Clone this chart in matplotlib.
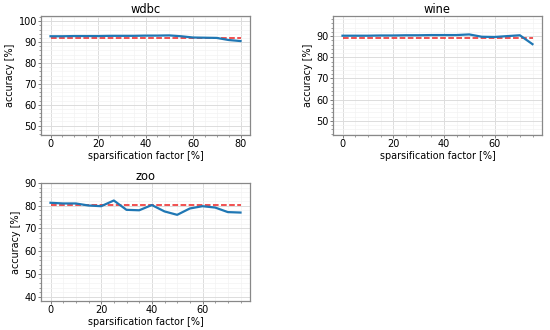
import matplotlib
matplotlib.use("Agg")
import matplotlib.pyplot as plt
from matplotlib.ticker import AutoMinorLocator, MultipleLocator

x_wdbc = [0, 5, 10, 15, 20, 25, 30, 35, 40, 45, 50, 55, 60, 65, 70, 75, 80]
acc_wdbc = [92.8, 92.8, 92.9, 92.9, 92.9, 93.0, 93.0, 93.0, 93.1, 93.1, 93.2, 92.8, 92.2, 92.1, 92.0, 91.0, 90.5]
base_wdbc = 91.8

x_wine = [0, 5, 10, 15, 20, 25, 30, 35, 40, 45, 50, 55, 60, 65, 70, 75]
acc_wine = [90.2, 90.2, 90.2, 90.3, 90.3, 90.4, 90.4, 90.5, 90.5, 90.5, 90.8, 89.7, 89.6, 90.0, 90.4, 86.2]
base_wine = 89.0

x_zoo = [0, 5, 10, 15, 20, 25, 30, 35, 40, 45, 50, 55, 60, 65, 70, 75]
acc_zoo = [81.3, 81.0, 81.0, 80.1, 79.8, 82.3, 78.2, 78.0, 80.3, 77.5, 76.0, 78.8, 79.8, 79.2, 77.2, 77.0]
base_zoo = 80.3

titles = ["wdbc", "wine", "zoo"]
ylims = [(45.5, 102.5), (43.3, 99.5), (38.1, 90.0)]
positions = [
    [41/550, 1-135/330, 209/550, 119/330],
    [333/550, 1-135/330, 209/550, 119/330],
    [41/550, 1-301/330, 209/550, 118/330],
]
datasets = [(x_wdbc, acc_wdbc, base_wdbc), (x_wine, acc_wine, base_wine), (x_zoo, acc_zoo, base_zoo)]

fig = plt.figure(figsize=(5.5, 3.3), dpi=100)
for (xs, ys, base), title, yl, pos in zip(datasets, titles, ylims, positions):
    ax = fig.add_axes(pos)
    ax.plot(xs, [base]*len(xs), '--', color='#ee2222', lw=1.1, zorder=3)
    ax.plot(xs, ys, '-', color='#1f77b4', lw=1.6, zorder=4)
    ax.set_ylim(*yl)
    ax.set_title(title, fontsize=8.3, pad=2.5)
    ax.set_xlabel("sparsification factor [%]", fontsize=6.9, labelpad=1)
    ax.set_ylabel("accuracy [%]", fontsize=6.9, labelpad=2.5)
    ax.xaxis.set_major_locator(MultipleLocator(20))
    ax.yaxis.set_major_locator(MultipleLocator(10))
    ax.xaxis.set_minor_locator(AutoMinorLocator(4))
    ax.yaxis.set_minor_locator(AutoMinorLocator(5))
    ax.tick_params(which='major', labelsize=7.0, length=2.0, width=0.6, color='#666666', pad=1.0)
    ax.tick_params(which='minor', length=1.3, width=0.5, color='#777777')
    ax.grid(which='major', color='#dcdcdc', lw=0.7)
    ax.grid(which='minor', color='#f3f3f3', lw=0.5)
    ax.set_axisbelow(True)
    for s in ax.spines.values():
        s.set_color('#888888')
        s.set_linewidth(0.9)

fig.savefig("out.png", dpi=100)
